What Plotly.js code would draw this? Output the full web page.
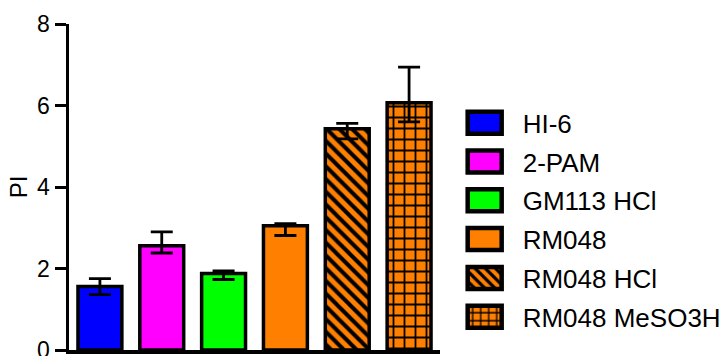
<!DOCTYPE html>
<html>
<head>
<meta charset="utf-8">
<script src="https://cdn.plot.ly/plotly-3.0.1.min.js"></script>
<style>html,body{margin:0;padding:0;background:#fff;}#chart{width:727px;height:356px;}</style>
</head>
<body>
<div id="chart"></div>
<script>
const categories = ["HI-6", "2-PAM", "GM113 HCl", "RM048", "RM048 HCl", "RM048 MeSO3H"];
const values = [1.56, 2.56, 1.88, 3.05, 5.43, 6.07];
const errPlus = [0.19, 0.34, 0.06, 0.05, 0.13, 0.87];
const errMinus = [0.20, 0.18, 0.15, 0.24, 0.25, 0.47];
const colors = ["#0000FF", "#FF00FF", "#00FF00", "#FF8000", "#FF8000", "#FF8000"];
const patterns = ["", "", "", "", "\\", "+"];
const yTicks = [0, 2, 4, 6, 8];

const FONT = "Liberation Sans, Arial, sans-serif";

const traces = categories.map((name, i) => {
  const marker = {
    color: colors[i],
    line: {color: "#000000", width: 3.5}
  };
  if (patterns[i]) {
    marker.pattern = {
      shape: patterns[i],
      fgcolor: "#000000",
      bgcolor: colors[i],
      size: patterns[i] === "+" ? 11 : 9,
      solidity: patterns[i] === "+" ? 0.3 : 0.45,
      fillmode: "replace"
    };
  }
  return {
    type: "bar",
    name: name,
    x: [name],
    y: [values[i]],
    marker: marker,
    legendgroup: "g" + i,
    error_y: {
      type: "data",
      symmetric: false,
      array: [errPlus[i]],
      arrayminus: [errMinus[i]],
      color: "#000000",
      thickness: 2.8,
      width: 11
    },
    hoverinfo: "none"
  };
});

const layout = {
  width: 727,
  height: 356,
  margin: {l: 69, r: 287, t: 24, b: 6, pad: 0, autoexpand: false},
  paper_bgcolor: "#ffffff",
  plot_bgcolor: "#ffffff",
  barmode: "overlay",
  bargap: 0.29,
  showlegend: true,
  font: {family: FONT, color: "#000000", size: 22},
  xaxis: {
    type: "category",
    categoryorder: "array",
    categoryarray: categories,
    range: [-0.5, 5.5],
    showticklabels: false,
    ticks: "",
    showgrid: false,
    zeroline: false,
    showline: true,
    linecolor: "#000000",
    linewidth: 3.5,
    fixedrange: true
  },
  yaxis: {
    range: [0, 8],
    tickvals: yTicks,
    ticktext: yTicks.map(String),
    ticks: "outside",
    ticklen: 11,
    tickwidth: 3,
    tickcolor: "#000000",
    ticklabeloverflow: "allow",
    showgrid: false,
    zeroline: false,
    showline: true,
    linecolor: "#000000",
    linewidth: 3.5,
    tickfont: {family: FONT, size: 23, color: "#000000"},
    title: {text: "PI", font: {family: FONT, size: 24, color: "#000000"}, standoff: 3},
    fixedrange: true
  },
  legend: {
    x: 1.018,
    xanchor: "left",
    y: 0.769,
    yanchor: "top",
    font: {family: FONT, size: 26, color: "#000000"},
    itemwidth: 66,
    tracegroupgap: 2,
    traceorder: "grouped",
    bgcolor: "rgba(0,0,0,0)",
    borderwidth: 0
  }
};

function bigLegendBoxes() {
  document.querySelectorAll("#chart .legend .legendpoints path").forEach(p => {
    p.setAttribute("d", "M17,11H-17V-11H17Z");
    p.style.strokeWidth = "4.5px";
  });
}

Plotly.newPlot("chart", traces, layout, {displayModeBar: false, staticPlot: true}).then(() => {
  bigLegendBoxes();
  setTimeout(bigLegendBoxes, 50);
  setTimeout(bigLegendBoxes, 300);
});
</script>
</body>
</html>
